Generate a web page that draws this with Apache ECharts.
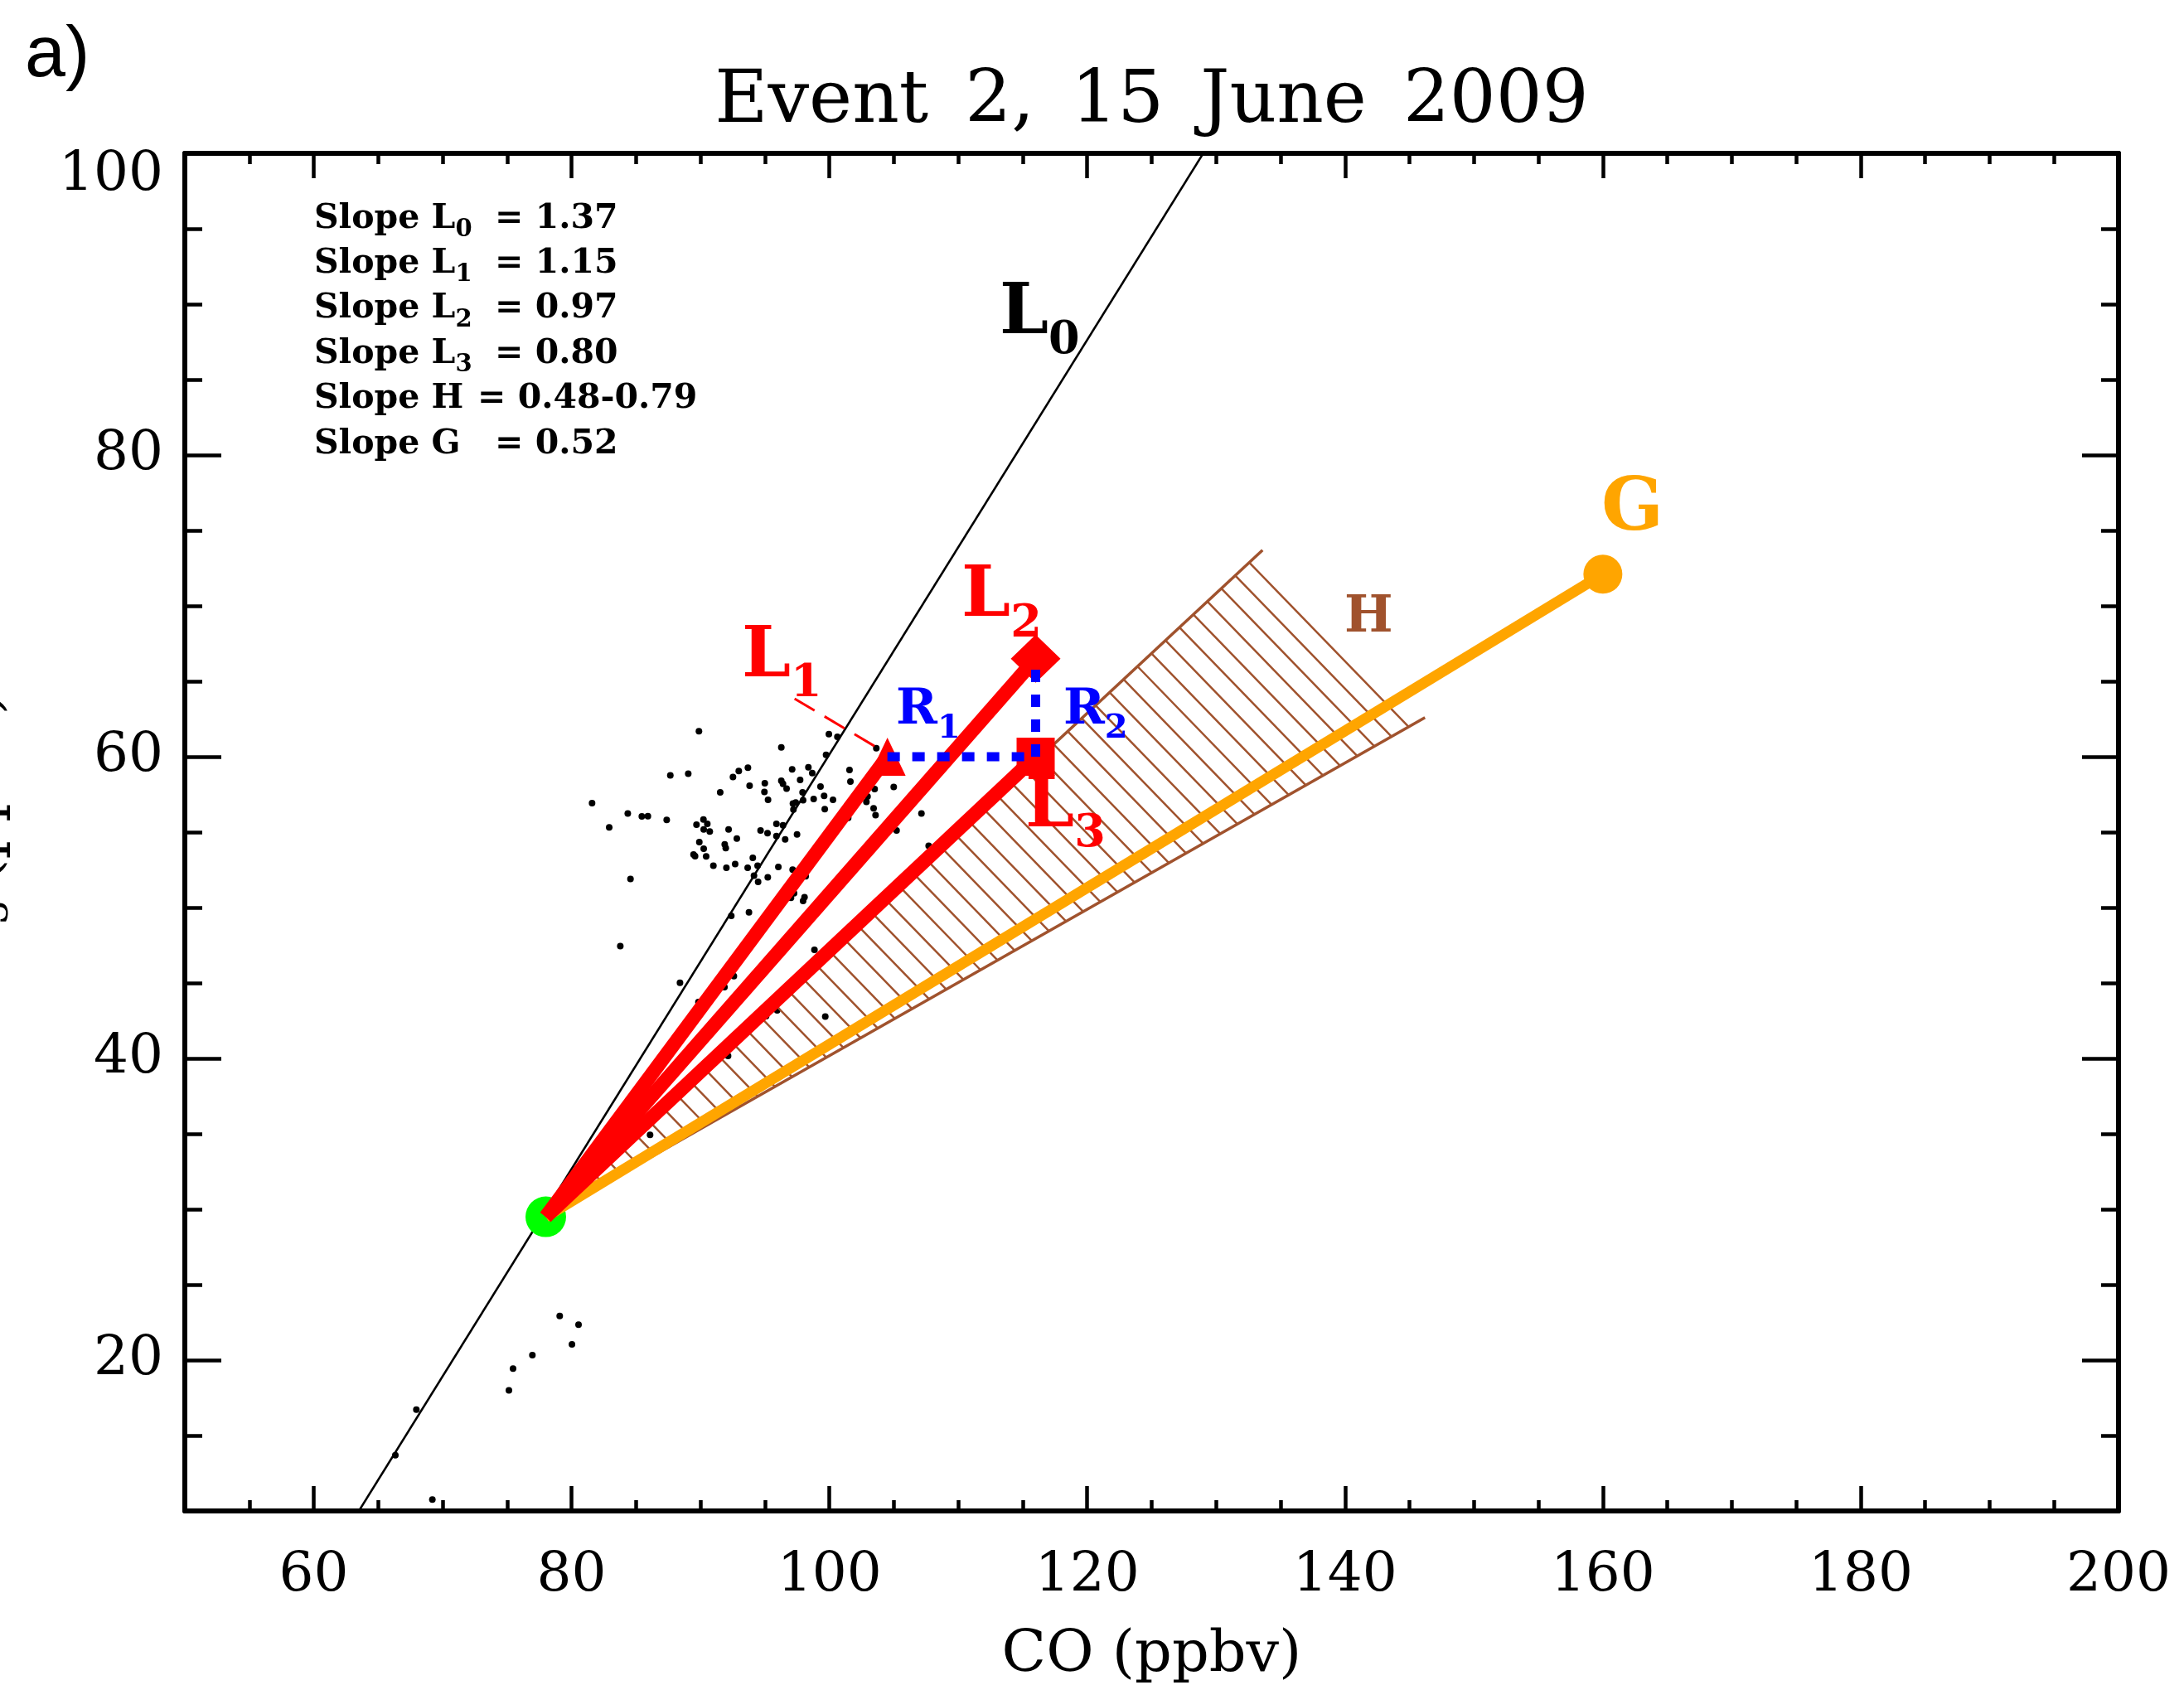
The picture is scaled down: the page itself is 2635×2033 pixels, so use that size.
<!DOCTYPE html>
<html>
<head>
<meta charset="utf-8">
<script src="https://cdn.jsdelivr.net/npm/echarts@6/dist/echarts.min.js"></script>
<style>
html,body{margin:0;padding:0;background:#ffffff;}
#chart{width:2635px;height:2033px;}
</style>
</head>
<body>
<div id="chart"></div>
<script>
// ================= DATA =================
const xTickValues = [60, 80, 100, 120, 140, 160, 180, 200];
const yTickValues = [20, 40, 60, 80, 100];

// common starting point (green) and end points of the mixing lines
const origin = [78, 29.5];
const l0Line = [[63.5, 10], [129.0, 100]];
const l1End = [104.5, 60];
const l2End = [116, 66.5];
const l3End = [116, 60];
const gEnd = [160, 72.1];
// hatched H wedge: ends of its upper (0.79) and lower (0.48) edges
const hUpperEnd = [133.6, 73.7];
const hLowerEnd = [146.2, 62.6];
// blue dotted R1 / R2 segments and L1 leader line
const r1Line = [[104.5, 60], [116, 60]];
const r2Line = [[116, 60], [116, 66.5]];
const l1Leader = [[97.3, 63.85], [103.8, 60.55]];

// observations: CO (ppbv), O3 (ppbv)
const observations = [
  [79.08,22.93],[80.54,22.35],[80.03,21.04],[76.96,20.33],[75.46,19.43],[75.14,18.00],
  [67.96,16.72],[66.33,13.70],[69.20,10.75],[86.09,34.93],
  [89.88,61.69],[99.96,61.50],[100.62,61.32],[96.27,60.62],[99.74,60.13],[103.64,60.57],
  [101.56,59.12],[101.63,58.35],[97.11,59.16],[98.37,59.30],[98.67,58.92],[93.68,59.27],
  [92.97,59.05],[92.52,58.65],[87.66,58.77],[89.05,58.88],[93.81,58.08],[94.99,58.24],
  [94.96,57.66],[95.24,57.14],[96.27,58.41],[96.40,58.20],[96.68,57.88],[97.73,58.46],
  [97.92,57.64],[99.31,58.02],[99.59,57.40],[100.28,57.14],[98.78,57.20],[97.96,57.11],
  [97.39,56.96],[97.17,56.90],[97.21,56.50],[99.64,56.52],[91.53,57.64],[81.59,56.92],
  [84.36,56.23],[85.45,56.04],[85.92,56.06],[87.38,55.81],[82.92,55.31],[90.23,55.84],
  [90.53,55.55],[89.69,55.49],[90.25,55.18],[90.72,55.04],[92.18,55.18],[92.82,54.58],
  [89.91,54.34],[90.25,53.90],[91.88,54.19],[91.96,53.94],[89.46,53.52],[89.58,53.41],
  [90.44,53.39],[91.00,52.77],[92.01,52.64],[92.69,52.89],[93.66,52.64],[94.06,53.30],
  [94.43,52.77],[94.15,52.11],[94.47,51.70],[95.22,52.01],[96.04,52.69],[94.66,55.11],
  [95.20,54.93],[95.89,55.55],[96.40,55.46],[95.89,54.74],[96.57,54.52],[97.49,54.85],
  [97.15,52.51],[98.16,52.07],[97.26,50.95],[97.02,50.64],[98.07,50.68],[97.96,50.44],
  [92.39,49.45],[93.76,49.69],[84.57,51.89],[83.78,47.44],[88.41,45.02],[92.59,45.46],
  [91.86,44.73],[89.84,43.74],[98.84,47.20],[95.95,43.19],[99.68,42.77],[92.14,40.17],
  [103.51,57.86],[104.99,57.99],[102.96,57.36],[102.87,57.00],[103.43,56.58],[103.58,56.12],
  [101.46,55.95],[107.14,56.23],[105.21,55.11],[107.70,54.10],[95.09,42.80]
];

// slope table text
const slopeNames = [['L','0'],['L','1'],['L','2'],['L','3'],['H',''],['G','']];
const slopeValues = ['1.37','1.15','0.97','0.80','0.48-0.79','0.52'];

// in-plot annotation labels and their anchor points (data coords, left-middle of the letter)
const annotationNames = [['L','0'],['L','1'],['L','2'],['L','3'],['R','1'],['R','2'],['G',''],['H','']];
const annotationAnchors = [[113.2,89.3],[93.21,66.54],[110.25,70.52],[115.2,56.57],[105.17,63.08],[118.15,63.08],[159.88,76.3],[139.95,69.2]];

// ================= STYLE =================
const SERIF = '"DejaVu Serif", serif';
const RED = '#FF0000', BLUE = '#0000FF', ORANGE = '#FFA500', GREEN = '#00FF00', SIENNA = '#A0522D';
const AXIS_W = 6, TICK_W = 4.5;
const HATCH_SPACING = 23, HATCH_END_GAP = 22;
// lh: line height of the main letter; a taller line pushes the bottom-aligned subscript lower
const annotationStyles = [
  {color:'#000000', size:84, subSize:54, lh:118},
  {color:RED, size:84, subSize:54, lh:118},
  {color:RED, size:84, subSize:54, lh:118},
  {color:RED, size:84, subSize:54, lh:118},
  {color:BLUE, size:60, subSize:40, lh:85},
  {color:BLUE, size:60, subSize:40, lh:85},
  {color:ORANGE, size:88, subSize:40, lh:88},
  {color:SIENNA, size:62, subSize:40, lh:62}
];

const tickLabel = {fontFamily: SERIF, fontSize: 66, color: '#000'};

function makeXAxes(position, withLabels) {
  const major = {
    type:'value', min:50, max:200, position,
    axisLine:{show:false, onZero:false},
    axisTick:{show:true, inside:true, length:30, customValues:xTickValues, lineStyle:{color:'#000', width:TICK_W}},
    axisLabel: withLabels ? Object.assign({show:true, customValues:xTickValues, margin:46}, tickLabel) : {show:false},
    splitLine:{show:false}
  };
  if (withLabels) {
    major.name = 'CO (ppbv)';
    major.nameLocation = 'middle';
    major.nameGap = 140;
    major.nameTextStyle = {fontFamily: SERIF, fontSize: 70, color:'#000'};
  }
  return [
    {type:'value', min:50, max:200, interval:5, position,
     axisLine:{show:true, onZero:false, lineStyle:{color:'#000', width:AXIS_W}},
     axisTick:{show:true, inside:true, length:13, lineStyle:{color:'#000', width:TICK_W}},
     axisLabel:{show:false}, splitLine:{show:false}},
    major
  ];
}
function makeYAxes(position, withLabels) {
  const major = {
    type:'value', min:10, max:100, position,
    axisLine:{show:false, onZero:false},
    axisTick:{show:true, inside:true, length:44, customValues:yTickValues, lineStyle:{color:'#000', width:TICK_W}},
    axisLabel: withLabels ? Object.assign({
      show:true, customValues:yTickValues, margin:26,
      formatter: v => (v === 100 ? '{t|' + v + '}' : String(v)),
      rich:{t:{padding:[54,0,0,0], fontFamily:SERIF, fontSize:66, color:'#000'}}
    }, tickLabel) : {show:false},
    splitLine:{show:false}
  };
  if (withLabels) {
    major.name = '{n|O}{s|3}{n| (ppbv)}';
    major.nameLocation = 'middle';
    major.nameRotate = 90;
    major.nameGap = 203;
    major.nameTextStyle = {
      fontFamily: SERIF, fontSize: 70, color:'#000',
      rich:{
        n:{fontFamily:SERIF, fontSize:70, lineHeight:80, color:'#000', verticalAlign:'middle'},
        s:{fontFamily:SERIF, fontSize:46, color:'#000', verticalAlign:'bottom'}
      }
    };
  }
  return [
    {type:'value', min:10, max:100, interval:5, position,
     axisLine:{show:true, onZero:false, lineStyle:{color:'#000', width:AXIS_W}},
     axisTick:{show:true, inside:true, length:21, lineStyle:{color:'#000', width:TICK_W}},
     axisLabel:{show:false}, splitLine:{show:false}},
    major
  ];
}

function lineSeries(data, color, width, z, type) {
  return {
    type:'line', data, xAxisIndex:0, yAxisIndex:0, symbol:'none', showSymbol:false,
    lineStyle:{color, width, type: type || 'solid', cap:'butt', opacity:1},
    z, silent:true, animation:false, emphasis:{disabled:true}
  };
}
function markerSeries(data, symbol, size, color, z) {
  return {
    type:'scatter', data, xAxisIndex:0, yAxisIndex:0, symbol, symbolSize:size,
    itemStyle:{color, opacity:1}, z, silent:true, animation:false, emphasis:{disabled:true}
  };
}

// slope table (graphic text)
const tableGraphics = [];
slopeNames.forEach((nm, i) => {
  const y = 264 + i * 54.4;
  const txt = '{m|Slope ' + nm[0] + '}' + (nm[1] ? '{s|' + nm[1] + '}' : '');
  tableGraphics.push({
    type:'text', x:379, y,
    style:{
      text: txt, align:'left', verticalAlign:'middle', textAlign:'left', textVerticalAlign:'middle',
      rich:{
        m:{fontFamily:SERIF, fontWeight:'bold', fontSize:41, lineHeight:56, fill:'#000', verticalAlign:'middle'},
        s:{fontFamily:SERIF, fontWeight:'bold', fontSize:29, fill:'#000', verticalAlign:'bottom'}
      }
    }
  });
  tableGraphics.push({
    type:'text', x: nm[1] || nm[0] === 'G' ? 597 : 576, y,
    style:{
      text: '= ' + slopeValues[i], align:'left', verticalAlign:'middle', textAlign:'left', textVerticalAlign:'middle',
      fontFamily:SERIF, fontWeight:'bold', fontSize:41, fill:'#000'
    }
  });
});

const annotationData = annotationNames.map((nm, i) => {
  const st = annotationStyles[i];
  return {
    value: annotationAnchors[i],
    label: {
      show:true, position:'inside', align:'left', verticalAlign:'middle', opacity:1,
      formatter: '{m|' + nm[0] + '}' + (nm[1] ? '{s|' + nm[1] + '}' : ''),
      rich:{
        m:{fontFamily:SERIF, fontWeight:'bold', fontSize:st.size, lineHeight:st.lh, color:st.color, verticalAlign:'middle'},
        s:{fontFamily:SERIF, fontWeight:'bold', fontSize:st.subSize, color:st.color, verticalAlign:'bottom'}
      }
    }
  };
});

const option = {
  animation:false,
  backgroundColor:'#ffffff',
  textStyle:{fontFamily:SERIF},
  grid:{left:223, right:79, top:185, bottom:210, containLabel:false, outerBoundsMode:'none', show:false},
  xAxis:[...makeXAxes('bottom', true), ...makeXAxes('top', false)],
  yAxis:[...makeYAxes('left', true), ...makeYAxes('right', false)],
  graphic:[
    {type:'text', x:30, y:68, style:{text:'a)', fontFamily:'"Liberation Sans", sans-serif', fontSize:88, fill:'#000',
      align:'left', verticalAlign:'middle', textAlign:'left', textVerticalAlign:'middle'}},
    {type:'text', x:1389.5, y:124, style:{text:'Event\u20022,\u200215\u2002June\u20022009', fontFamily:SERIF, fontSize:88, fill:'#000',
      align:'center', verticalAlign:'middle', textAlign:'center', textVerticalAlign:'middle'}},
    ...tableGraphics
  ],
  series:[
    lineSeries(l0Line, '#000000', 2.5, 1),
    markerSeries(observations, 'circle', 8, '#000000', 2),
    markerSeries([origin], 'circle', 49, GREEN, 3),
    {
      type:'custom', xAxisIndex:0, yAxisIndex:0, z:4, silent:true, animation:false,
      data:[[origin[0], origin[1], hUpperEnd[0], hUpperEnd[1], hLowerEnd[0], hLowerEnd[1]]],
      encode:{x:[0,2,4], y:[1,3,5]},
      renderItem:function (params, api) {
        const A = api.coord([api.value(0), api.value(1)]);
        const U = api.coord([api.value(2), api.value(3)]);
        const L = api.coord([api.value(4), api.value(5)]);
        const ex = L[0] - U[0], ey = L[1] - U[1];
        const len = Math.hypot(ex, ey);
        let nx = -ey / len, ny = ex / len;
        let D = (U[0] - A[0]) * nx + (U[1] - A[1]) * ny;
        if (D < 0) { nx = -nx; ny = -ny; D = -D; }
        const children = [];
        for (let t = D - HATCH_END_GAP; t > 4; t -= HATCH_SPACING) {
          const f = t / D;
          children.push({type:'line', shape:{
            x1:A[0] + (U[0] - A[0]) * f, y1:A[1] + (U[1] - A[1]) * f,
            x2:A[0] + (L[0] - A[0]) * f, y2:A[1] + (L[1] - A[1]) * f},
            style:{stroke:SIENNA, lineWidth:2.5}});
        }
        children.push({type:'line', shape:{x1:A[0], y1:A[1], x2:U[0], y2:U[1]}, style:{stroke:SIENNA, lineWidth:3.5}});
        children.push({type:'line', shape:{x1:A[0], y1:A[1], x2:L[0], y2:L[1]}, style:{stroke:SIENNA, lineWidth:3.5}});
        return {type:'group', children};
      }
    },
    lineSeries([origin, gEnd], ORANGE, 13, 5),
    markerSeries([gEnd], 'circle', 47, ORANGE, 6),
    lineSeries(l1Leader, RED, 3, 7, [28, 14]),
    lineSeries([origin, l1End], RED, 17, 7),
    lineSeries([origin, l2End], RED, 17, 7),
    lineSeries([origin, l3End], RED, 17, 7),
    markerSeries([l1End], 'triangle', [44, 46], RED, 8),
    markerSeries([l2End], 'diamond', [60, 58], RED, 8),
    markerSeries([l3End], 'rect', [46, 46], RED, 8),
    lineSeries(r1Line, BLUE, 11, 9, [15, 15]),
    lineSeries(r2Line, BLUE, 11, 9, [15, 15]),
    {
      type:'scatter', xAxisIndex:0, yAxisIndex:0, data:annotationData, symbol:'circle', symbolSize:1,
      itemStyle:{color:'rgba(0,0,0,0)', opacity:1}, z:10, silent:true, animation:false, emphasis:{disabled:true}
    }
  ]
};

const chart = echarts.init(document.getElementById('chart'), null, {renderer:'canvas', width:2635, height:2033});
chart.setOption(option);
</script>
</body>
</html>
